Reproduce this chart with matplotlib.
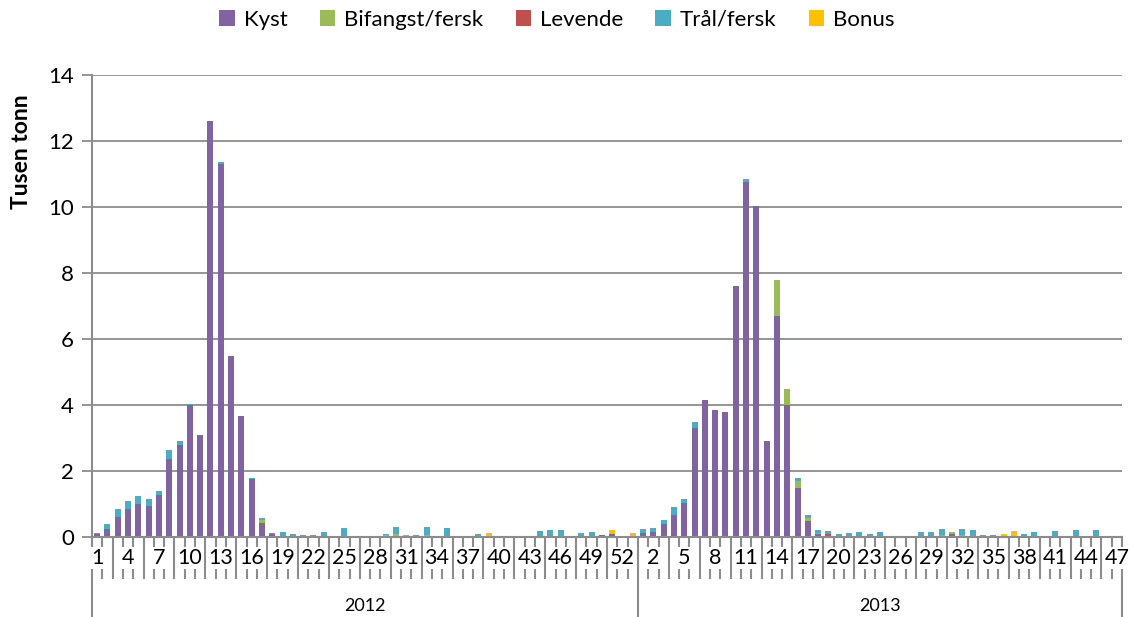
import matplotlib
matplotlib.use("Agg")
import matplotlib.pyplot as plt
from matplotlib.patches import Patch
import numpy as np

plt.rcParams['font.family'] = ['Lato', 'DejaVu Sans']

years = ["2012", "2013"]
weeks_2012 = list(range(1, 54))
weeks_2013 = list(range(1, 48))
series_names = ["Kyst", "Bifangst/fersk", "Levende", "Trål/fersk", "Bonus"]
colors = ["#8064A2", "#9BBB59", "#C0504D", "#4BACC6", "#FFC000"]

# 2012, weeks 1..53 (thousand tonnes)
kyst_2012 = [0.10, 0.25, 0.60, 0.85, 1.00, 0.95, 1.28, 2.35, 2.80, 4.00,
             3.10, 12.60, 11.30, 5.50, 3.67, 1.75, 0.42, 0.10, 0.04, 0.03,
             0.03, 0.02, 0.00, 0.00, 0.00, 0.00, 0.00, 0.00, 0.00, 0.02,
             0.00, 0.00, 0.00, 0.00, 0.00, 0.00, 0.00, 0.00, 0.00, 0.00,
             0.00, 0.00, 0.00, 0.00, 0.00, 0.00, 0.00, 0.00, 0.03, 0.06,
             0.10, 0.00, 0.00]
bif_2012 = [0.00, 0.00, 0.00, 0.00, 0.00, 0.00, 0.00, 0.00, 0.00, 0.00,
            0.00, 0.00, 0.00, 0.00, 0.00, 0.00, 0.10, 0.00, 0.00, 0.00,
            0.00, 0.00, 0.00, 0.00, 0.00, 0.00, 0.00, 0.00, 0.06, 0.08,
            0.07, 0.03, 0.05, 0.03, 0.00, 0.02, 0.02, 0.00, 0.00, 0.03,
            0.03, 0.00, 0.00, 0.00, 0.01, 0.00, 0.00, 0.00, 0.00, 0.00,
            0.00, 0.00, 0.00]
lev_2012 = [0.00] * 53
tral_2012 = [0.02, 0.15, 0.25, 0.25, 0.25, 0.20, 0.10, 0.30, 0.12, 0.02,
             0.00, 0.00, 0.05, 0.00, 0.00, 0.03, 0.07, 0.02, 0.10, 0.05,
             0.02, 0.03, 0.15, 0.00, 0.27, 0.00, 0.00, 0.00, 0.02, 0.19,
             0.00, 0.02, 0.25, 0.00, 0.27, 0.01, 0.00, 0.09, 0.00, 0.00,
             0.00, 0.00, 0.00, 0.17, 0.21, 0.20, 0.00, 0.13, 0.11, 0.00,
             0.00, 0.00, 0.00]
bonus_2012 = [0.00, 0.00, 0.00, 0.00, 0.00, 0.00, 0.00, 0.00, 0.00, 0.00,
              0.00, 0.00, 0.00, 0.00, 0.00, 0.00, 0.00, 0.00, 0.00, 0.00,
              0.00, 0.00, 0.00, 0.00, 0.00, 0.00, 0.00, 0.00, 0.00, 0.00,
              0.00, 0.00, 0.00, 0.00, 0.00, 0.00, 0.00, 0.00, 0.13, 0.00,
              0.00, 0.00, 0.00, 0.00, 0.00, 0.00, 0.00, 0.00, 0.00, 0.00,
              0.10, 0.00, 0.12]

# 2013, weeks 1..47
kyst_2013 = [0.12, 0.16, 0.39, 0.66, 1.03, 3.30, 4.15, 3.85, 3.80, 7.60,
             10.75, 10.03, 2.90, 6.70, 4.00, 1.50, 0.48, 0.10, 0.05, 0.00,
             0.00, 0.00, 0.00, 0.00, 0.00, 0.00, 0.00, 0.00, 0.00, 0.00,
             0.08, 0.00, 0.03, 0.00, 0.00, 0.00, 0.00, 0.00, 0.00, 0.00,
             0.00, 0.00, 0.00, 0.00, 0.00, 0.00, 0.00]
bif_2013 = [0.00, 0.00, 0.00, 0.00, 0.00, 0.00, 0.00, 0.00, 0.00, 0.00,
            0.00, 0.00, 0.00, 1.10, 0.50, 0.20, 0.10, 0.03, 0.00, 0.00,
            0.00, 0.00, 0.00, 0.00, 0.00, 0.00, 0.00, 0.00, 0.02, 0.05,
            0.07, 0.05, 0.00, 0.00, 0.00, 0.00, 0.00, 0.00, 0.00, 0.00,
            0.02, 0.00, 0.00, 0.00, 0.00, 0.00, 0.00]
lev_2013 = [0.00, 0.00, 0.00, 0.00, 0.00, 0.00, 0.00, 0.00, 0.00, 0.00,
            0.00, 0.00, 0.00, 0.00, 0.00, 0.00, 0.00, 0.00, 0.03, 0.00,
            0.00, 0.00, 0.00, 0.00, 0.00, 0.00, 0.00, 0.00, 0.00, 0.00,
            0.00, 0.00, 0.00, 0.00, 0.00, 0.00, 0.00, 0.00, 0.00, 0.00,
            0.00, 0.00, 0.00, 0.00, 0.00, 0.00, 0.00]
tral_2013 = [0.11, 0.12, 0.14, 0.25, 0.13, 0.17, 0.00, 0.00, 0.00, 0.00,
             0.10, 0.00, 0.00, 0.00, 0.00, 0.10, 0.09, 0.07, 0.09, 0.10,
             0.11, 0.15, 0.09, 0.16, 0.00, 0.00, 0.00, 0.15, 0.13, 0.18,
             0.01, 0.18, 0.17, 0.05, 0.05, 0.02, 0.00, 0.08, 0.15, 0.00,
             0.15, 0.00, 0.20, 0.00, 0.21, 0.00, 0.00]
bonus_2013 = [0.00, 0.00, 0.00, 0.00, 0.00, 0.00, 0.00, 0.00, 0.00, 0.00,
              0.00, 0.00, 0.00, 0.00, 0.00, 0.00, 0.00, 0.00, 0.00, 0.00,
              0.00, 0.00, 0.00, 0.00, 0.00, 0.00, 0.00, 0.00, 0.00, 0.00,
              0.00, 0.00, 0.00, 0.00, 0.00, 0.06, 0.19, 0.00, 0.00, 0.00,
              0.00, 0.00, 0.00, 0.00, 0.00, 0.00, 0.00]

series = [kyst_2012 + kyst_2013, bif_2012 + bif_2013, lev_2012 + lev_2013,
          tral_2012 + tral_2013, bonus_2012 + bonus_2013]
week_labels = weeks_2012 + weeks_2013
n = len(week_labels)
n12 = len(weeks_2012)

W, H = 1133, 617
fig = plt.figure(figsize=(W / 100, H / 100), dpi=100)
ax_l, ax_r, ax_b, ax_t = 92, 1122, 537, 75
ax = fig.add_axes([ax_l / W, (H - ax_b) / H, (ax_r - ax_l) / W, (ax_b - ax_t) / H])

x = np.arange(n)
bottom = np.zeros(n)
for vals, c in zip(series, colors):
    v = np.array(vals)
    ax.bar(x, v, width=0.58, bottom=bottom, color=c, edgecolor='none', zorder=3)
    bottom += v

gray = "#8c8c8c"
ax.set_xlim(-0.5, n - 0.5)
ax.set_ylim(0, 14)
ax.set_yticks(np.arange(0, 15, 2))
ax.yaxis.grid(True, color=gray, lw=1.3, zorder=0)
ax.tick_params(axis='y', length=7, width=1.3, color=gray, labelsize=16, pad=6)
ax.set_xticks([])
for s in ['top', 'right']:
    ax.spines[s].set_visible(False)
for s in ['left', 'bottom']:
    ax.spines[s].set_color(gray)
    ax.spines[s].set_linewidth(1.5)
ax.spines['bottom'].set_zorder(4)

axh = ax_b - ax_t
row1 = -41 / axh
row2 = -80 / axh
trans = matplotlib.transforms.blended_transform_factory(ax.transData, ax.transAxes)
for i in range(1, n):
    xb = i - 0.5
    if i == n12:
        continue
    ax.plot([xb, xb], [0, row1], transform=trans, color=gray, lw=1.5, clip_on=False, zorder=1)
for xb in [-0.5, n12 - 0.5, n - 0.5]:
    ax.plot([xb, xb], [0, row2], transform=trans, color=gray, lw=1.5, clip_on=False, zorder=1)

for i in range(0, n, 3):
    ax.text(i, -21 / axh, str(week_labels[i]), transform=trans, ha='center', va='center',
            fontsize=15.5, zorder=5,
            bbox=dict(boxstyle='square,pad=0.05', fc='white', ec='none'))

ax.text((n12 - 1) / 2, -69 / axh, years[0], transform=trans, ha='center', va='center', fontsize=13)
ax.text(n12 - 0.5 + (n - n12) / 2, -69 / axh, years[1], transform=trans, ha='center', va='center', fontsize=13)

fig.text(22 / W, (H - 152) / H, "Tusen tonn", rotation=90, ha='center', va='center',
         fontsize=16.5, fontweight='bold')

handles = [Patch(facecolor=c, edgecolor='none') for c in colors]
fig.legend(handles, series_names, loc='center', bbox_to_anchor=(557 / W, (H - 20) / H),
           ncol=5, frameon=False, fontsize=16, handlelength=0.7, handleheight=0.7,
           handletextpad=0.4, columnspacing=1.45)

fig.savefig("out.png", dpi=100)
